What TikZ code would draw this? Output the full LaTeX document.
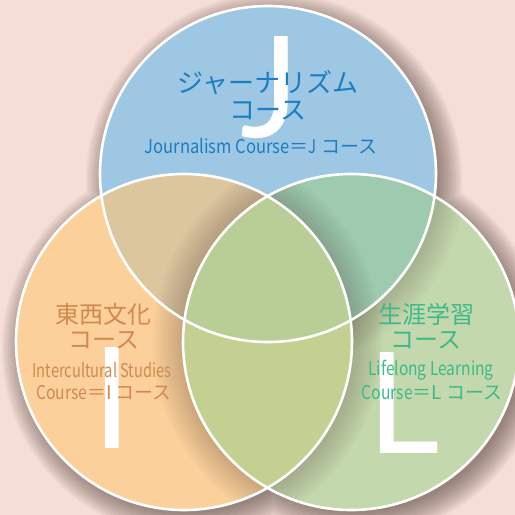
\documentclass[tikz,border=0pt]{standalone}
\usepackage{fontspec}
\usepackage{graphicx}
\newfontfamily\jpfont{Noto Sans CJK JP}
\newfontfamily\letterfont{Lato}
\definecolor{bgc}{HTML}{F5DED6}
\definecolor{shc}{HTML}{4E3A36}
\definecolor{Jc}{HTML}{9DC7E2}
\definecolor{Ic}{HTML}{FBD09A}
\definecolor{Lc}{HTML}{C3D8AC}
\definecolor{JIc}{HTML}{DCC69E}
\definecolor{JLc}{HTML}{9ECBB0}
\definecolor{ILc}{HTML}{C4D092}
\definecolor{JILc}{HTML}{B8CE96}
\definecolor{Jtxt}{HTML}{1B7EC2}
\definecolor{Itxt}{HTML}{D08A50}
\definecolor{Ltxt}{HTML}{3DB98A}
\newcommand\fitw[2]{\resizebox{#1}{\height}{#2}}
\tikzset{
  jpbig/.style={inner sep=0pt, font=\jpfont\fontsize{26}{26}\selectfont},
  jpmid/.style={inner sep=0pt, font=\jpfont\fontsize{24}{24}\selectfont},
  latin/.style={inner sep=0pt, font=\jpfont\fontsize{19}{19}\selectfont},
  bigletter/.style={inner sep=0pt, anchor=base, white, font=\letterfont\fontsize{141}{141}\selectfont},
  ring/.style={draw=white, line width=2.6pt}
}
\begin{document}
\begin{tikzpicture}[x=1pt,y=-1pt]
\useasboundingbox (0,0) rectangle (515,515);
\clip (0,0) rectangle (515,515);
\fill[bgc] (0,0) rectangle (515,515);
\coordinate (cJ) at (268,174);
\coordinate (cI) at (184,342);
\coordinate (cL) at (351,342);
% soft outer shadow
\foreach \d in {0,2,...,24}{
  \fill[shc, opacity=0.055] ([shift={(6,7)}]cJ) circle[radius=164+\d] ([shift={(6,7)}]cI) circle[radius=164+\d] ([shift={(6,7)}]cL) circle[radius=164+\d];
}
% circles
\fill[Jc] (cJ) circle[radius=168];
\fill[Ic] (cI) circle[radius=168];
\fill[Lc] (cL) circle[radius=168];
\begin{scope}\clip (cJ) circle[radius=168]; \fill[JIc] (cI) circle[radius=168]; \fill[JLc] (cL) circle[radius=168]; \end{scope}
\begin{scope}\clip (cI) circle[radius=168]; \fill[ILc] (cL) circle[radius=168]; \end{scope}
\begin{scope}\clip (cJ) circle[radius=168]; \clip (cI) circle[radius=168]; \fill[JILc] (cL) circle[radius=168]; \end{scope}
% inner shadows cast across edges
\begin{scope}\clip (cI) circle[radius=168];
  \foreach \w in {3,6,...,30}{\fill[shc, opacity=0.028, even odd rule] (cL) circle[radius=168] (cL) circle[radius=168+\w];}
\end{scope}
\begin{scope}\clip (cL) circle[radius=168];
  \foreach \w in {3,6,...,30}{\fill[shc, opacity=0.028, even odd rule] (cI) circle[radius=168] (cI) circle[radius=168+\w];}
\end{scope}
\begin{scope}[even odd rule]
  \clip (cL) circle[radius=168];
  \clip (0,0) rectangle (515,515) (cI) circle[radius=168];
  \foreach \w in {3,6,...,30}{\fill[shc, opacity=0.022] (cJ) circle[radius=168] (cJ) circle[radius=168+\w];}
\end{scope}
\draw[ring] (cJ) circle[radius=168];
\draw[ring] (cI) circle[radius=168];
\draw[ring] (cL) circle[radius=168];
% big letters
\node[bigletter] (bJ) at (270,137) {J};
\node[bigletter] (bI) at (112,448) {I};
\node[bigletter] (bL) at (404,453) {L};
% texts J
\node[jpbig, text=Jtxt] (j1) at (268,83) {ジャーナリズム};
\node[jpbig, text=Jtxt] (j2) at (268,111) {コース};
\node[latin, text=Jtxt] (j3) at (261,146) {\fitw{145pt}{Journalism Course}＝\fitw{8pt}{J} コース};
% texts I
\node[jpmid, text=Itxt] (i1) at (104,314) {東西文化};
\node[jpmid, text=Itxt] (i2) at (104,340) {コース};
\node[latin, text=Itxt] (i3) at (102,370) {\fitw{139pt}{Intercultural Studies}};
\node[latin, text=Itxt] (i4) at (104,393) {\fitw{51pt}{Course}＝I コース};
% texts L
\node[jpmid, text=Ltxt] (l1) at (426,314) {生涯学習};
\node[jpmid, text=Ltxt] (l2) at (426,340) {コース};
\node[latin, text=Ltxt] (l3) at (431,370) {\fitw{125pt}{Lifelong Learning}};
\node[latin, text=Ltxt] (l4) at (432,393) {\fitw{51pt}{Course}＝L コース};
\end{tikzpicture}
\end{document}
